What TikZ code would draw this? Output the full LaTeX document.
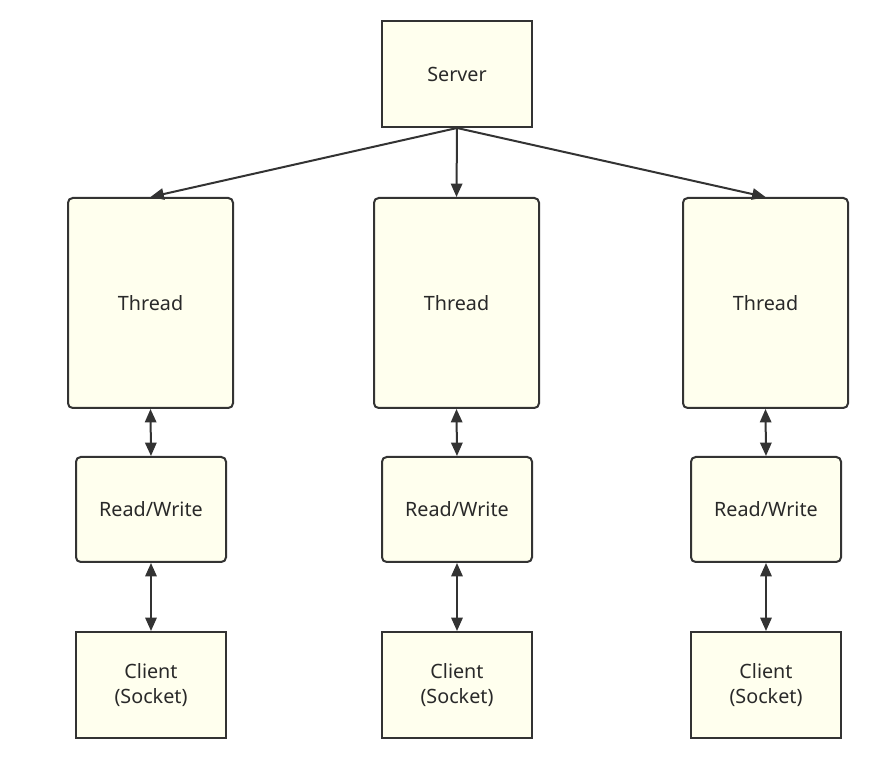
\documentclass[tikz,border=0pt]{standalone}
\usepackage{fontspec}
\setmainfont{Noto Sans}
\usetikzlibrary{arrows.meta}
\definecolor{boxfill}{RGB}{255,255,238}
\definecolor{boxline}{RGB}{51,51,51}
\begin{document}
\begin{tikzpicture}[x=0.75pt,y=-0.75pt,
  base/.style={draw=boxline,fill=boxfill,line width=1.5pt,inner sep=0pt,
    font=\fontsize{14.8pt}{18.75pt}\selectfont,text=boxline!80!black,align=center},
  sqbox/.style={base,minimum width=112.5pt,minimum height=79.5pt},
  thbox/.style={base,rounded corners=3.5pt,minimum width=123.75pt,minimum height=157.5pt},
  rwbox/.style={base,rounded corners=3.5pt,minimum width=112.5pt,minimum height=78.75pt},
  tip/.tip={Triangle[length=10pt,width=8.5pt]},
  arr/.style={draw=boxline,line width=1.5pt,-tip},
  darr/.style={draw=boxline,line width=1.5pt,tip-tip}]
\useasboundingbox[fill=white] (0,0) rectangle (879,766);
\node[sqbox] (srv) at (457,74) {Server};
\node[thbox] (t1) at (150.5,303) {Thread};
\node[thbox] (t2) at (456.5,303) {Thread};
\node[thbox] (t3) at (765.5,303) {Thread};
\node[rwbox] (rw1) at (151,509.5) {Read/Write};
\node[rwbox] (rw2) at (457,509.5) {Read/Write};
\node[rwbox] (rw3) at (766,509.5) {Read/Write};
\node[sqbox] (c1) at (151,685) {Client\\(Socket)};
\node[sqbox] (c2) at (457,685) {Client\\(Socket)};
\node[sqbox] (c3) at (766,685) {Client\\(Socket)};
\draw[arr] (srv.south) -- (t1.north);
\draw[arr] (srv.south) -- (t2.north);
\draw[arr] (srv.south) -- (t3.north);
\draw[darr] (t1.south) -- (rw1.north);
\draw[darr] (t2.south) -- (rw2.north);
\draw[darr] (t3.south) -- (rw3.north);
\draw[darr] (rw1.south) -- (c1.north);
\draw[darr] (rw2.south) -- (c2.north);
\draw[darr] (rw3.south) -- (c3.north);
\end{tikzpicture}
\end{document}
